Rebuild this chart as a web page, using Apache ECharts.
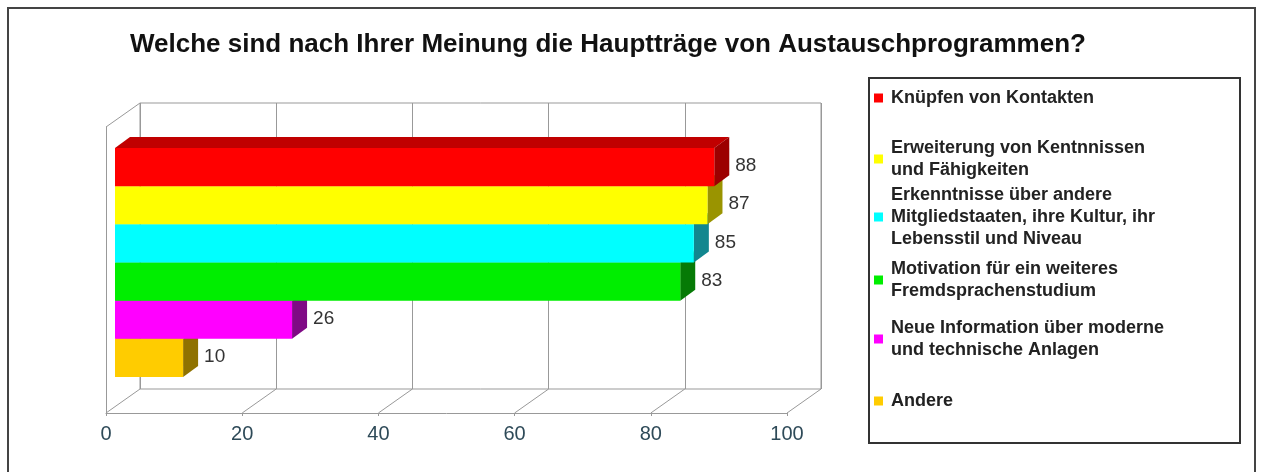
<!DOCTYPE html>
<html>
<head>
<meta charset="utf-8">
<script src="https://cdn.jsdelivr.net/npm/echarts@6/dist/echarts.min.js"></script>
<style>
  html, body { margin: 0; padding: 0; background: #fff; }
  #main { width: 1263px; height: 472px; }
</style>
</head>
<body>
<div id="main"></div>
<script>
// data, top bar first
const categories = [
  'Knüpfen von Kontakten',
  'Erweiterung von Kentnnissen\nund Fähigkeiten',
  'Erkenntnisse über andere\nMitgliedstaaten, ihre Kultur, ihr\nLebensstil und Niveau',
  'Motivation für ein weiteres\nFremdsprachenstudium',
  'Neue Information über moderne\nund technische Anlagen',
  'Andere'
];
const values = [88, 87, 85, 83, 26, 10];
const xTicks = [0, 20, 40, 60, 80, 100];

// styles
const colors = [
  { front: '#ff0000', top: '#c00000', side: '#9c0000' },
  { front: '#ffff00', top: '#b8b800', side: '#9a9400' },
  { front: '#00ffff', top: '#00b0b0', side: '#12878f' },
  { front: '#00ee00', top: '#00a800', side: '#067a06' },
  { front: '#ff00ff', top: '#b000b0', side: '#7f0a85' },
  { front: '#ffcc00', top: '#b89000', side: '#8f7200' }
];
// legend placement (icon centre y, first line text offset)
const legendLayout = [
  { c: 98, pt: 4 },
  { c: 159, pt: 14 },
  { c: 217, pt: 26 },
  { c: 280, pt: 26 },
  { c: 339, pt: 28 },
  { c: 401, pt: 0 }
];
const DX = 15, DY = 11;       // bar depth
const WX = 34, WY = 24;       // wall depth
const LINE = 22;

const rows = categories.slice().reverse();

const chart = echarts.init(document.getElementById('main'));

function barRender(i) {
  return function (params, api) {
    const row = api.value(1);
    const p0 = api.coord([0, row]);
    const p1 = api.coord([api.value(0), row]);
    const h = api.size([0, 1])[1];
    const top = p1[1] - h / 2, bot = p1[1] + h / 2;
    const x0 = p0[0], x1 = p1[0];
    const c = colors[i];
    return {
      type: 'group',
      children: [
        { type: 'polygon', shape: { points: [[x0, top], [x0 + DX, top - DY], [x1 + DX, top - DY], [x1, top]] }, style: { fill: c.top } },
        { type: 'polygon', shape: { points: [[x1, top], [x1 + DX, top - DY], [x1 + DX, bot - DY], [x1, bot]] }, style: { fill: c.side } },
        { type: 'rect', shape: { x: x0, y: top, width: x1 - x0, height: h }, style: { fill: c.front } },
        { type: 'text', x: x1 + 21, y: p1[1] - 1, style: { text: String(api.value(0)), fill: '#333', font: '19px Arial, "Liberation Sans", sans-serif', verticalAlign: 'middle' } }
      ]
    };
  };
}

const barSeries = categories.map(function (name, i) {
  return {
    name: name,
    type: 'custom',
    xAxisIndex: 0,
    yAxisIndex: 0,
    z: 10 - i,
    color: colors[i].front,
    renderItem: barRender(i),
    data: [[values[i], rows.indexOf(name)]]
  };
});

// floor diagonals + top left edge
const wallSeries = {
  type: 'custom',
  xAxisIndex: 2,
  yAxisIndex: 2,
  silent: true,
  z: 1,
  renderItem: function (params, api) {
    const p = api.coord([api.value(0), api.value(1)]);
    return {
      type: 'line',
      shape: { x1: p[0], y1: p[1], x2: p[0] + WX, y2: p[1] - WY },
      style: { stroke: '#999', lineWidth: 1 }
    };
  },
  data: xTicks.map(function (v) { return [v, 0]; }).concat([[0, 1]])
};

const legends = categories.map(function (name, i) {
  const n = name.split('\n').length;
  const L = legendLayout[i];
  const H = n * LINE + L.pt;
  return {
    data: [name],
    left: 874,
    top: L.c - Math.max(4.5, H / 2),
    padding: 0,
    orient: 'vertical',
    icon: 'rect',
    itemWidth: 9,
    itemHeight: 9,
    selectedMode: false,
    textStyle: {
      fontSize: 18,
      fontWeight: 'bold',
      fontFamily: 'Arial, "Liberation Sans", sans-serif',
      color: '#222',
      lineHeight: LINE,
      padding: [L.pt, 0, 0, 3]
    }
  };
});

chart.setOption({
  animation: false,
  backgroundColor: '#fff',
  title: {
    text: 'Welche sind nach Ihrer Meinung die Hauptträge von Austauschprogrammen?',
    left: 130,
    top: 32,
    padding: 0,
    textStyle: { fontSize: 26, fontWeight: 'bold', fontFamily: 'Arial, "Liberation Sans", sans-serif', color: '#111' }
  },
  legend: legends,
  graphic: [
    { type: 'rect', shape: { x: 8, y: 8, width: 1247, height: 500 }, style: { fill: 'none', stroke: '#444', lineWidth: 2 }, silent: true },
    { type: 'rect', shape: { x: 869, y: 78, width: 371, height: 365 }, style: { fill: 'none', stroke: '#333', lineWidth: 2 }, silent: true }
  ],
  grid: [
    { left: 115, top: 148, width: 681, height: 229 },
    { left: 140, top: 103, width: 681, height: 286, show: true, borderColor: '#999', borderWidth: 1, backgroundColor: 'transparent' },
    { left: 106, top: 127, width: 681, height: 286 }
  ],
  xAxis: [
    { gridIndex: 0, type: 'value', min: 0, max: 100, show: false },
    {
      gridIndex: 1, type: 'value', min: 0, max: 100, interval: 20,
      axisLine: { show: false }, axisTick: { show: false }, axisLabel: { show: false },
      splitLine: { show: true, lineStyle: { color: '#999', width: 1 } }
    },
    {
      gridIndex: 2, type: 'value', min: 0, max: 100, interval: 20,
      axisLine: { show: true, lineStyle: { color: '#999', width: 1 } },
      axisTick: { show: true, length: 3, lineStyle: { color: '#999' } },
      axisLabel: {
        margin: 11, fontSize: 20, color: '#2e4a58',
        fontFamily: 'Arial, "Liberation Sans", sans-serif'
      },
      splitLine: { show: false }
    }
  ],
  yAxis: [
    { gridIndex: 0, type: 'category', data: rows, show: false, boundaryGap: true },
    { gridIndex: 1, type: 'value', min: 0, max: 1, show: false },
    {
      gridIndex: 2, type: 'value', min: 0, max: 1,
      axisLine: { show: true, lineStyle: { color: '#999', width: 1 } },
      axisTick: { show: false }, axisLabel: { show: false }, splitLine: { show: false }
    }
  ],
  series: barSeries.concat([wallSeries])
});
</script>
</body>
</html>
